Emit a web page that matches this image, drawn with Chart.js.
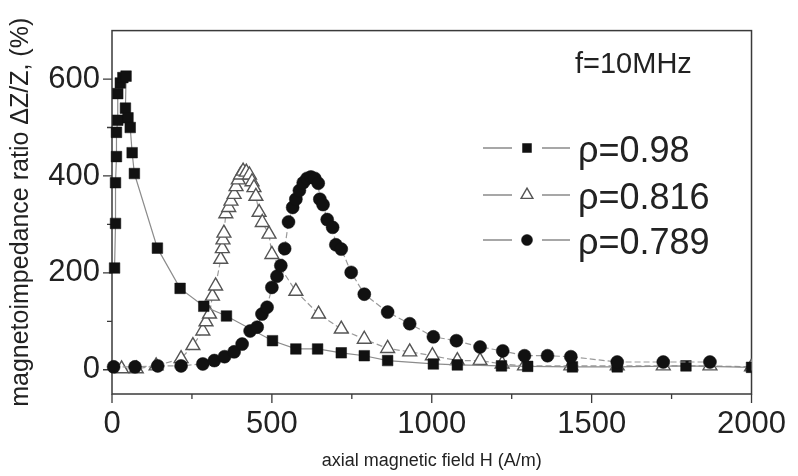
<!DOCTYPE html>
<html><head><meta charset="utf-8">
<script src="https://cdn.jsdelivr.net/npm/chart.js@4/dist/chart.umd.min.js"></script>
<style>html,body{margin:0;padding:0;background:#fff;}#wrap{width:798px;height:476px;}</style>
</head><body><div id="wrap"><canvas id="c" width="798" height="476"></canvas></div>
<script>
// ---- data ----
const seriesNames = ['ρ=0.98', 'ρ=0.816', 'ρ=0.789'];
const frequencyLabel = 'f=10MHz';
const xTitle = 'axial magnetic field H (A/m)';
const yTitle = 'magnetoimpedance ratio ΔZ/Z, (%)';

const h098 = [8, 11, 11, 14, 14, 18, 18, 26, 34, 44, 42, 50, 57, 63, 70, 142, 213, 287, 358, 502, 575, 643, 717, 789, 862, 1005, 1080, 1218, 1300, 1440, 1580, 1795, 2000];
const mi098 = [210, 302, 386, 440, 490, 515, 570, 592, 603, 606, 540, 520, 500, 448, 405, 251, 168, 131, 111, 60, 43, 43, 35, 29, 19, 12, 10, 8, 7, 6, 6, 8, 5];

const h0816 = [30, 76, 138, 216, 253, 284, 294, 305, 314, 324, 340, 345, 347, 350, 356, 365, 372, 382, 388, 395, 402, 410, 420, 430, 438, 444, 450, 460, 470, 491, 500, 575, 646, 717, 789, 862, 931, 1002, 1080, 1151, 1220, 1290, 1435, 1580, 1724, 1870, 2000];
const mi0816 = [2, 2, 8, 23, 50, 80, 99, 115, 152, 173, 228, 250, 268, 282, 322, 335, 348, 362, 378, 392, 402, 410, 408, 402, 388, 376, 358, 325, 304, 280, 238, 162, 115, 84, 63, 44, 37, 29, 19, 19, 12, 8, 8, 8, 8, 8, 6];

const h0789 = [5, 72, 143, 216, 284, 320, 352, 382, 407, 432, 454, 469, 485, 500, 516, 528, 540, 552, 565, 575, 586, 598, 610, 622, 634, 645, 650, 660, 673, 690, 700, 717, 748, 789, 862, 931, 1005, 1077, 1151, 1222, 1290, 1362, 1435, 1580, 1724, 1870];
const mi0789 = [6, 6, 8, 8, 12, 19, 27, 37, 53, 80, 88, 115, 129, 170, 193, 215, 250, 305, 335, 352, 370, 386, 395, 398, 395, 385, 352, 341, 310, 294, 258, 249, 201, 156, 119, 95, 68, 60, 47, 39, 29, 29, 27, 16, 16, 16];

const xTickValues = [0, 250, 500, 750, 1000, 1250, 1500, 1750, 2000];
const xMajorTicks = [0, 500, 1000, 1500, 2000];
const yTickValues = [0, 100, 200, 300, 400, 500, 600];
const yMajorTicks = [0, 200, 400, 600];

const toPoints = (xs, ys) => xs.map((v, i) => ({x: v, y: ys[i]}));

const FONT = '"Liberation Sans", Arial, Helvetica, sans-serif';
const TXT = '#222';

const styles = [
  {pointStyle: 'rect', pointRadius: 7.5, pointBackgroundColor: '#111', pointBorderColor: '#111', pointBorderWidth: 0.5,
   borderColor: '#8c8c8c', borderWidth: 1.2, borderDash: [], order: 1},
  {pointStyle: 'triangle', pointRadius: 8, pointBackgroundColor: '#fff', pointBorderColor: '#555', pointBorderWidth: 1.4,
   borderColor: '#9a9a9a', borderWidth: 1.2, borderDash: [6, 3], order: 2},
  {pointStyle: 'circle', pointRadius: 6.5, pointBackgroundColor: '#111', pointBorderColor: '#111', pointBorderWidth: 0.5,
   borderColor: '#9a9a9a', borderWidth: 1.2, borderDash: [6, 3], order: 0}
];

const dataSets = [toPoints(h098, mi098), toPoints(h0816, mi0816), toPoints(h0789, mi0789)];

const datasets = dataSets.map((d, i) => Object.assign({
  label: seriesNames[i], data: d, showLine: true, tension: 0,
  clip: {left: 8, top: 0, right: 0, bottom: 8}
}, styles[i]));

function drawMarker(ctx, st, x, y, size) {
  ctx.save();
  ctx.lineWidth = st.pointBorderWidth;
  ctx.fillStyle = st.pointBackgroundColor;
  ctx.strokeStyle = st.pointBorderColor;
  ctx.beginPath();
  if (st.pointStyle === 'rect') {
    ctx.rect(x - size / 2, y - size / 2, size, size);
  } else if (st.pointStyle === 'triangle') {
    const r = size * 0.62;
    ctx.moveTo(x, y - r);
    ctx.lineTo(x + r * 0.866, y + r * 0.5);
    ctx.lineTo(x - r * 0.866, y + r * 0.5);
    ctx.closePath();
  } else {
    ctx.arc(x, y, size / 2, 0, Math.PI * 2);
  }
  ctx.fill();
  ctx.stroke();
  ctx.restore();
}

const framePlugin = {
  id: 'frameTicks',
  beforeDatasetsDraw(chart) {
    const {ctx, chartArea: a, scales: {x, y}} = chart;
    ctx.save();
    ctx.strokeStyle = '#3a3a3a';
    ctx.lineWidth = 1.5;
    ctx.strokeRect(a.left, a.top, a.right - a.left, a.bottom - a.top);
    ctx.lineWidth = 1.3;
    ctx.beginPath();
    x.ticks.forEach(t => {
      const px = x.getPixelForValue(t.value);
      const len = xMajorTicks.includes(t.value) ? 9 : 5;
      ctx.moveTo(px, a.bottom); ctx.lineTo(px, a.bottom + len);
    });
    y.ticks.forEach(t => {
      const py = y.getPixelForValue(t.value);
      const len = yMajorTicks.includes(t.value) ? 9 : 5;
      ctx.moveTo(a.left, py); ctx.lineTo(a.left - len, py);
    });
    ctx.stroke();
    ctx.restore();
  },
  afterDraw(chart) {
    const {ctx} = chart;
    ctx.save();
    ctx.fillStyle = TXT;
    ctx.textBaseline = 'alphabetic';
    ctx.textAlign = 'left';
    ctx.font = '29px ' + FONT;
    ctx.fillText(frequencyLabel, 575, 73);
    const rows = [148, 195, 240];
    ctx.font = '36px ' + FONT;
    seriesNames.forEach((name, i) => {
      const yy = rows[i];
      ctx.strokeStyle = '#8a8a8a';
      ctx.lineWidth = 1.4;
      ctx.setLineDash([]);
      ctx.beginPath();
      ctx.moveTo(483, yy); ctx.lineTo(512, yy);
      ctx.moveTo(542, yy); ctx.lineTo(570, yy);
      ctx.stroke();
      const sizes = [9, 11, 11];
      drawMarker(ctx, styles[i], 527, yy, sizes[i]);
      ctx.fillStyle = TXT;
      ctx.fillText(name, 578, yy + 14);
    });
    ctx.restore();
  }
};

new Chart(document.getElementById('c'), {
  type: 'scatter',
  data: {datasets},
  plugins: [framePlugin],
  options: {
    responsive: false,
    devicePixelRatio: 1,
    animation: false,
    layout: {padding: {left: 0, top: 29, right: 41, bottom: 0}},
    plugins: {legend: {display: false}, tooltip: {enabled: false}},
    scales: {
      x: {
        type: 'linear', min: 0, max: 2000,
        afterFit: s => { s.height = 82; },
        afterBuildTicks: s => { s.ticks = xTickValues.map(v => ({value: v})); },
        border: {display: false},
        grid: {display: false, drawTicks: false},
        ticks: {autoSkip: false, maxRotation: 0, padding: 12, color: TXT,
          font: {size: 31, family: FONT},
          callback: v => xMajorTicks.includes(v) ? String(v) : ''},
        title: {display: true, text: xTitle, color: TXT, font: {size: 18, family: FONT}, padding: {top: 0, bottom: 4}}
      },
      y: {
        type: 'linear', min: -50, max: 700,
        afterFit: s => { s.width = 112; },
        afterBuildTicks: s => { s.ticks = yTickValues.map(v => ({value: v})); },
        border: {display: false},
        grid: {display: false, drawTicks: false},
        ticks: {autoSkip: false, padding: 12, color: TXT,
          font: {size: 31, family: FONT},
          callback: v => yMajorTicks.includes(v) ? String(v) : ''},
        title: {display: true, text: yTitle, color: TXT, font: {size: 25, family: FONT}, padding: {top: 6, bottom: 0}}
      }
    }
  }
});
</script>
</body></html>
